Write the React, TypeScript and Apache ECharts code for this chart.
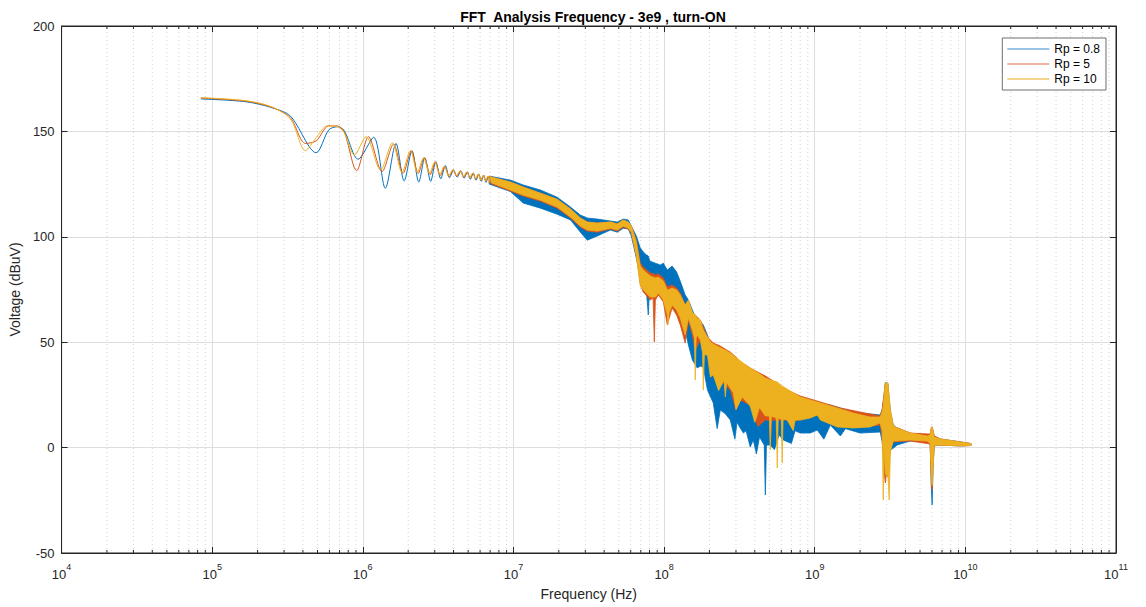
import React, { useEffect, useRef } from "react";
import * as echarts from "echarts";

const TITLE = "FFT  Analysis Frequency - 3e9 , turn-ON";
const X_NAME = "Frequency (Hz)";
const Y_NAME = "Voltage (dBuV)";
const SERIES_NAMES = ["Rp = 0.8", "Rp = 5", "Rp = 10"];
const COLORS = ["#0072BD", "#D95319", "#EDB120"];
const LEGEND_COLORS = ["#9cc4e6", "#eeb59c", "#f4d48a"];
const X_MIN = 1e4;
const X_MAX = 1e11;
const Y_MIN = -50;
const Y_MAX = 200;
const Y_STEP = 50;
const MINOR_DECADES = [1e4, 1e5, 1e6, 1e7, 1e8, 1e9, 1e10];
const MINOR_MULTS = [2, 3, 4, 5, 6, 7, 8, 9];
const FONT = "'Liberation Sans', Arial, Helvetica, sans-serif";

// Low-frequency part (clean ripples), [Hz, dBuV]
const blueLine = [
  [8.4e4, 165.4], [1.66e5, 164.1], [2.45e5, 161.4], [3.3e5, 157.3], [4.9e5, 139.9],
  [5.94e5, 150.7], [6.75e5, 152.2], [7.5e5, 150.5], [9.3e5, 136.8], [1.18e6, 147.2],
  [1.41e6, 123.0], [1.66e6, 144.3], [1.88e6, 126.5], [2.12e6, 140.8], [2.35e6, 126.0],
  [2.58e6, 137.5], [2.82e6, 126.3], [3.05e6, 135.6], [3.29e6, 127.5], [3.53e6, 133.8],
  [3.76e6, 128.0], [4.0e6, 131.6], [4.23e6, 128.3], [4.47e6, 131.2], [4.7e6, 127.8],
  [4.94e6, 130.7], [5.17e6, 127.3], [5.41e6, 130.2], [5.64e6, 126.8], [5.88e6, 129.7],
  [6.11e6, 126.3], [6.35e6, 129.2], [6.58e6, 125.8], [6.82e6, 128.7], [7.05e6, 125.3],
];
const orangeLine = [
  [8.4e4, 165.8], [1.66e5, 164.4], [2.45e5, 161.6], [3.3e5, 156.5], [4.16e5, 144.3],
  [4.9e5, 145.5], [5.94e5, 152.6], [6.75e5, 152.6], [7.5e5, 150.0], [9.1e5, 131.4],
  [1.09e6, 147.5], [1.34e6, 130.9], [1.6e6, 144.0], [1.85e6, 130.1], [2.1e6, 140.8],
  [2.33e6, 130.0], [2.56e6, 137.5], [2.8e6, 129.5], [3.03e6, 135.5], [3.27e6, 129.0],
  [3.5e6, 133.5], [3.74e6, 128.5], [3.98e6, 131.8], [4.21e6, 128.7], [4.45e6, 131.3],
  [4.68e6, 128.2], [4.92e6, 130.8], [5.15e6, 127.7], [5.39e6, 130.3], [5.62e6, 127.2],
  [5.86e6, 129.8], [6.09e6, 126.7], [6.33e6, 129.3], [6.56e6, 126.2], [6.8e6, 128.8],
  [7.03e6, 125.8],
];
const yellowLine = [
  [8.4e4, 166.0], [1.66e5, 164.6], [2.45e5, 161.8], [3.3e5, 156.0], [4.16e5, 140.9],
  [4.9e5, 147.0], [5.8e5, 152.6], [6.75e5, 152.4], [7.5e5, 149.5], [8.8e5, 138.8],
  [1.05e6, 147.5], [1.31e6, 131.7], [1.57e6, 144.5], [1.82e6, 130.5], [2.07e6, 141.0],
  [2.3e6, 130.5], [2.53e6, 137.5], [2.77e6, 130.0], [3.0e6, 135.5], [3.24e6, 129.5],
  [3.47e6, 133.5], [3.71e6, 129.0], [3.95e6, 131.8], [4.18e6, 129.0], [4.42e6, 131.3],
  [4.65e6, 128.5], [4.89e6, 130.8], [5.12e6, 128.0], [5.36e6, 130.3], [5.59e6, 127.5],
  [5.83e6, 129.8], [6.06e6, 127.0], [6.3e6, 129.3], [6.53e6, 126.5], [6.77e6, 128.8],
  [7.0e6, 126.0],
];

// Dense part: envelope of the fast ripple, [Hz, low dBuV, high dBuV]
const blueBand = [
  [6.9e6, 125.0, 128.8], [9.53e6, 121.5, 126.9],
  [1.16e7, 116.0, 124.6], [1.51e7, 113.6, 122.2], [1.95e7, 110.7, 118.8], [2.39e7, 108.0, 114.1],
  [2.78e7, 102.2, 110.3], [3.09e7, 98.4, 108.9], [3.6e7, 100.4, 108.4], [4.4e7, 103.2, 107.5],
  [4.89e7, 102.2, 107.0], [5.36e7, 104.1, 108.4], [5.78e7, 103.7, 108.0], [6.06e7, 100.4, 105.1],
  [6.54e7, 89.9, 100.4], [6.95e7, 81.9, 94.7], [7.28e7, 73.8, 92.8], [7.6e7, 76.0, 91.5],
  [7.85e7, 62.9, 90.9], [8.0e7, 76.0, 89.0], [8.09e7, 74.8, 88.4], [8.75e7, 78.6, 87.5],
  [9.44e7, 74.8, 86.6], [9.88e7, 72.4, 87.5], [1.05e8, 70.0, 84.2], [1.13e8, 71.4, 86.1],
  [1.21e8, 67.6, 83.3], [1.28e8, 62.9, 79.0], [1.38e8, 55.8, 72.4], [1.45e8, 48.7, 70.0],
  [1.54e8, 41.6, 65.3], [1.66e8, 37.8, 60.0], [1.74e8, 38.7, 59.6], [1.82e8, 38.2, 58.2],
  [1.94e8, 27.3, 53.4], [2.12e8, 21.2, 43.4], [2.25e8, 9.0, 42.5], [2.36e8, 17.8, 41.6],
  [2.55e8, 16.0, 40.5], [2.75e8, 13.1, 39.2], [2.95e8, 4.0, 37.0], [3.05e8, 12.0, 35.0],
  [3.2e8, 9.3, 33.5], [3.36e8, 6.9, 32.1], [3.5e8, 8.0, 31.0], [3.73e8, 0.3, 29.7],
  [3.91e8, 3.6, 28.7], [4.1e8, -3.0, 27.5], [4.3e8, 5.0, 26.5], [4.62e8, 1.2, 25.2],
  [4.7e8, -22.5, 24.9], [4.78e8, 1.2, 24.6], [5.07e8, 1.2, 23.5], [5.4e8, -1.0, 22.5],
  [5.8e8, 6.0, 21.5], [6.18e8, 3.6, 20.2], [7.0e8, 2.0, 19.0], [7.4e8, 8.0, 18.5],
  [8.01e8, 6.9, 17.8], [9.33e8, 6.9, 21.6], [1.04e9, 8.3, 20.7], [1.15e9, 4.0, 20.5],
  [1.27e9, 10.7, 20.2], [1.48e9, 5.5, 18.8], [1.6e9, 9.0, 18.0], [2.0e9, 6.9, 16.4],
  [2.72e9, 7.4, 15.5], [2.8e9, 3.0, 18.0], [2.88e9, -5.0, 24.0], [2.94e9, -13.5, 30.8],
  [3.0e9, -10.0, 30.8], [3.06e9, -13.0, 30.5], [3.12e9, -3.5, 22.6], [3.2e9, -1.0, 16.0],
  [3.32e9, -0.3, 10.7], [3.52e9, 1.2, 9.3], [4.3e9, 3.1, 6.9], [5.58e9, 2.7, 5.5],
  [5.84e9, 1.5, 6.5], [5.95e9, -20.0, 9.0], [6.02e9, -27.2, 9.8], [6.1e9, -10.0, 8.0],
  [6.21e9, 0.8, 5.5], [6.81e9, 1.2, 4.1], [9.25e9, 0.8, 2.7], [1.09e10, 1.0, 1.9],
];
const orangeBand = [
  [6.9e6, 125.5, 128.6], [9.53e6, 121.7, 126.0],
  [1.16e7, 119.3, 123.6], [1.51e7, 116.9, 120.7], [1.95e7, 113.6, 117.8], [2.39e7, 108.9, 113.2],
  [2.78e7, 104.6, 108.9], [3.09e7, 102.7, 107.0], [3.6e7, 102.2, 106.5], [4.4e7, 103.7, 107.0],
  [4.89e7, 102.7, 106.1], [5.36e7, 104.6, 108.0], [5.78e7, 103.7, 107.0], [6.06e7, 101.8, 105.1],
  [6.54e7, 91.3, 98.4], [6.95e7, 77.1, 87.5], [7.28e7, 73.8, 85.6], [8.09e7, 70.0, 82.8],
  [8.45e7, 71.0, 82.5], [8.61e7, 50.1, 82.4], [8.75e7, 70.0, 81.9], [9.15e7, 72.4, 82.4],
  [9.88e7, 69.1, 80.5], [1.05e8, 58.2, 76.2], [1.13e8, 66.2, 77.1], [1.21e8, 62.9, 75.7],
  [1.28e8, 58.2, 73.3], [1.38e8, 49.6, 67.6], [1.45e8, 60.5, 70.0], [1.54e8, 53.4, 62.9],
  [1.61e8, 46.3, 62.9], [1.74e8, 51.0, 60.5], [1.94e8, 46.3, 52.5], [2.12e8, 36.8, 49.6],
  [2.36e8, 32.1, 48.2], [2.75e8, 27.3, 45.3], [3.0e8, 18.0, 43.0], [3.2e8, 22.6, 40.6],
  [3.73e8, 20.2, 37.8], [4.2e8, 10.0, 35.8], [4.7e8, 13.1, 34.0], [5.0e8, 13.0, 32.8],
  [5.07e8, 1.2, 32.5], [5.15e8, 13.0, 32.2], [6.18e8, 13.1, 28.2], [8.01e8, 13.1, 24.5],
  [1.04e9, 15.5, 22.1], [1.27e9, 13.1, 20.2], [1.48e9, 10.7, 18.8], [2.0e9, 9.8, 16.9],
  [2.72e9, 10.7, 15.0], [2.8e9, 5.0, 18.0], [2.88e9, -10.0, 25.0], [2.94e9, -16.8, 30.5],
  [3.0e9, -12.0, 30.5], [3.06e9, -14.0, 30.0], [3.12e9, -6.0, 21.0], [3.2e9, 0.0, 16.0],
  [3.32e9, 2.7, 10.2], [4.3e9, 3.1, 6.9], [5.84e9, 1.7, 6.4], [5.95e9, -18.0, 9.5],
  [6.02e9, -20.0, 9.5], [6.1e9, -8.0, 8.0], [6.21e9, 1.2, 5.5], [6.81e9, 1.2, 4.1],
  [9.25e9, 0.8, 2.7], [1.09e10, 1.0, 1.9],
];
const yellowBand = [
  [6.9e6, 126.0, 128.6], [9.53e6, 122.2, 126.0],
  [1.16e7, 119.8, 123.6], [1.51e7, 117.4, 120.7], [1.95e7, 114.1, 117.8], [2.39e7, 109.4, 113.2],
  [2.78e7, 105.1, 108.9], [3.09e7, 103.2, 107.0], [3.6e7, 102.7, 106.5], [4.4e7, 104.1, 107.0],
  [4.89e7, 103.2, 106.1], [5.36e7, 105.1, 108.0], [5.78e7, 104.1, 107.0], [6.06e7, 102.2, 105.1],
  [6.54e7, 90.9, 97.5], [6.95e7, 77.1, 86.1], [7.28e7, 74.8, 84.2], [8.09e7, 71.4, 81.4],
  [8.75e7, 71.4, 80.5], [9.15e7, 73.3, 80.9], [9.88e7, 70.0, 79.0], [1.05e8, 62.9, 74.8],
  [1.06e8, 58.2, 74.8], [1.08e8, 64.0, 75.0], [1.13e8, 67.6, 75.7], [1.21e8, 65.3, 74.8],
  [1.28e8, 61.5, 72.4], [1.38e8, 53.4, 67.6], [1.45e8, 61.5, 70.0], [1.54e8, 55.8, 64.3],
  [1.59e8, 52.0, 63.3], [1.61e8, 32.1, 62.9], [1.63e8, 52.0, 62.3], [1.66e8, 53.4, 61.5],
  [1.74e8, 51.0, 60.5], [1.8e8, 45.0, 57.0], [1.82e8, 27.3, 55.8], [1.85e8, 44.0, 55.0],
  [1.94e8, 43.9, 52.5], [2.03e8, 33.5, 50.1], [2.12e8, 34.4, 49.1], [2.3e8, 27.0, 47.8],
  [2.5e8, 32.0, 46.5], [2.55e8, 24.0, 46.3], [2.6e8, 31.0, 46.0], [2.88e8, 25.9, 43.9],
  [3.0e8, 18.0, 42.8], [3.3e8, 24.0, 40.5], [3.73e8, 19.7, 37.8], [4.0e8, 12.0, 36.5],
  [4.3e8, 19.0, 35.0], [4.7e8, 15.0, 33.0], [5.0e8, 15.0, 32.3], [5.07e8, -1.1, 32.1],
  [5.15e8, 15.0, 31.9], [5.55e8, 14.0, 31.3], [5.64e8, -9.7, 31.1], [5.72e8, 14.0, 30.8],
  [6.0e8, 13.5, 29.5], [6.08e8, -7.3, 29.2], [6.16e8, 13.5, 29.0], [6.56e8, 13.1, 27.8],
  [7.2e8, 8.0, 26.0], [7.4e8, 13.0, 25.5], [8.01e8, 13.1, 24.0], [9.33e8, 14.0, 22.6],
  [1.04e9, 15.5, 21.6], [1.09e9, 13.1, 21.2], [1.41e9, 9.8, 18.8], [1.8e9, 9.3, 16.4],
  [2.33e9, 9.8, 14.5], [2.72e9, 11.7, 14.5], [2.8e9, 8.0, 17.0], [2.85e9, -24.9, 20.0],
  [2.88e9, 0.0, 24.0], [2.94e9, -12.0, 30.6], [3.0e9, -14.0, 30.8], [3.06e9, -12.0, 30.6],
  [3.12e9, -24.9, 25.0], [3.18e9, -2.0, 18.0], [3.32e9, 3.1, 10.5], [3.52e9, 3.1, 9.3],
  [4.3e9, 3.6, 6.9], [5.58e9, 3.1, 5.5], [5.84e9, 2.0, 6.0], [5.95e9, -15.0, 9.9],
  [6.02e9, -18.0, 9.9], [6.1e9, -10.0, 8.0], [6.21e9, 1.0, 5.0], [6.81e9, 1.2, 4.1],
  [9.25e9, 0.8, 2.7], [1.09e10, 1.0, 1.9],
];

const LINES = [blueLine, orangeLine, yellowLine];
const BANDS = [blueBand, orangeBand, yellowBand];

const MINOR_TICKS: number[] = [];
MINOR_DECADES.forEach((d) => MINOR_MULTS.forEach((m) => MINOR_TICKS.push(m * d)));

const AXIS_COLOR = "#262626";
const GRID_COLOR = "#dedede";

function bandSeries(band: number[][], color: string, idx: number) {
  return {
    type: "custom",
    name: "band" + idx,
    xAxisIndex: 0,
    yAxisIndex: 0,
    silent: true,
    clip: true,
    dimensions: ["f", "lo", "hi"],
    encode: { x: 0, y: [1, 2] },
    data: band,
    renderItem: (params: any, api: any) => {
      if (params.dataIndex !== 0) return null;
      const upper = band.map((d) => api.coord([d[0], d[2]]));
      const lower = band.map((d) => api.coord([d[0], d[1]])).reverse();
      return {
        type: "polygon",
        shape: { points: upper.concat(lower) },
        style: { fill: color, stroke: color, lineWidth: 0.8 },
      };
    },
  };
}

export default function App() {
  const ref = useRef<HTMLDivElement>(null);

  useEffect(() => {
    if (!ref.current) return;
    const chart = echarts.init(ref.current, undefined, { renderer: "svg" });

    const series: any[] = [
      {
        type: "custom",
        name: "minorGrid",
        silent: true,
        z: 1,
        xAxisIndex: 0,
        yAxisIndex: 0,
        dimensions: ["f"],
        encode: { x: 0 },
        data: MINOR_TICKS.map((f) => [f]),
        renderItem: (params: any, api: any) => {
          const f = api.value(0);
          const b = api.coord([f, Y_MIN]);
          const t = api.coord([f, Y_MAX]);
          return {
            type: "group",
            children: [
              {
                type: "line",
                shape: { x1: b[0], y1: b[1], x2: t[0], y2: t[1] },
                style: { stroke: "#d2d2d2", lineWidth: 1, lineDash: [1, 3] },
              },
              {
                type: "line",
                shape: { x1: b[0], y1: b[1], x2: b[0], y2: b[1] - 3 },
                style: { stroke: AXIS_COLOR, lineWidth: 1 },
              },
              {
                type: "line",
                shape: { x1: t[0], y1: t[1], x2: t[0], y2: t[1] + 3 },
                style: { stroke: AXIS_COLOR, lineWidth: 1 },
              },
            ],
          };
        },
      },
    ];

    SERIES_NAMES.forEach((name, i) => {
      series.push({
        type: "line",
        name,
        xAxisIndex: 0,
        yAxisIndex: 0,
        data: LINES[i],
        symbol: "none",
        smooth: 0.3,
        lineStyle: { color: COLORS[i], width: 1 },
        itemStyle: { color: COLORS[i] },
        silent: true,
      });
      series.push(bandSeries(BANDS[i], COLORS[i], i));
    });

    const xLabel = {
      formatter: (v: number) => `{b|10}{e|${Math.round(Math.log10(v))}}`,
      margin: 9,
      rich: {
        b: { fontSize: 13, color: AXIS_COLOR, fontFamily: FONT, lineHeight: 19, verticalAlign: "bottom" },
        e: { fontSize: 9, color: AXIS_COLOR, fontFamily: FONT, lineHeight: 11, verticalAlign: "top" },
      },
    };

    chart.setOption({
      animation: false,
      backgroundColor: "#ffffff",
      title: {
        text: TITLE,
        left: 588,
        top: 5,
        textAlign: "center",
        textStyle: { fontSize: 14, fontWeight: "bold", color: "#000", fontFamily: FONT },
      },
      grid: {
        left: 61,
        right: 30,
        top: 26,
        bottom: 54,
        show: true,
        borderColor: AXIS_COLOR,
        borderWidth: 1,
        backgroundColor: "transparent",
      },
      legend: {
        orient: "vertical",
        right: 40,
        top: 38,
        data: SERIES_NAMES.map((n, i) => ({
          name: n,
          itemStyle: { color: "rgba(0,0,0,0)", borderWidth: 0, opacity: 0 },
          lineStyle: { color: LEGEND_COLORS[i], width: 2 },
        })),
        itemWidth: 42,
        itemHeight: 13,
        itemGap: 3,
        padding: [5, 6, 5, 4],
        borderColor: "#6e6e6e",
        borderWidth: 1,
        backgroundColor: "#ffffff",
        textStyle: { fontSize: 12, color: "#000", fontFamily: FONT },
      },
      xAxis: [
        {
          type: "log",
          logBase: 10,
          min: X_MIN,
          max: X_MAX,
          position: "bottom",
          name: X_NAME,
          nameLocation: "middle",
          nameGap: 34,
          nameTextStyle: { fontSize: 14, color: AXIS_COLOR, fontFamily: FONT },
          axisLine: { show: true, onZero: false, lineStyle: { color: AXIS_COLOR } },
          axisTick: { show: true, inside: true, length: 6, lineStyle: { color: AXIS_COLOR } },
          axisLabel: xLabel,
          splitLine: { show: true, lineStyle: { color: GRID_COLOR } },
        },
        {
          type: "log",
          logBase: 10,
          min: X_MIN,
          max: X_MAX,
          position: "top",
          axisLine: { show: true, onZero: false, lineStyle: { color: AXIS_COLOR } },
          axisTick: { show: true, inside: true, length: 6, lineStyle: { color: AXIS_COLOR } },
          axisLabel: { show: false },
          splitLine: { show: false },
        },
      ],
      yAxis: [
        {
          type: "value",
          min: Y_MIN,
          max: Y_MAX,
          interval: Y_STEP,
          position: "left",
          name: Y_NAME,
          nameLocation: "middle",
          nameGap: 36,
          nameRotate: 90,
          nameTextStyle: { fontSize: 14, color: AXIS_COLOR, fontFamily: FONT },
          axisLine: { show: true, onZero: false, lineStyle: { color: AXIS_COLOR } },
          axisTick: { show: true, inside: true, length: 6, lineStyle: { color: AXIS_COLOR } },
          axisLabel: { fontSize: 13, color: AXIS_COLOR, fontFamily: FONT, margin: 7 },
          splitLine: { show: true, lineStyle: { color: GRID_COLOR } },
        },
        {
          type: "value",
          min: Y_MIN,
          max: Y_MAX,
          interval: Y_STEP,
          position: "right",
          axisLine: { show: true, onZero: false, lineStyle: { color: AXIS_COLOR } },
          axisTick: { show: true, inside: true, length: 6, lineStyle: { color: AXIS_COLOR } },
          axisLabel: { show: false },
          splitLine: { show: false },
        },
      ],
      series,
    });

    return () => chart.dispose();
  }, []);

  return (
    <div
      ref={ref}
      style={{ position: "absolute", left: 0, top: 0, width: 1146, height: 607, background: "#fff" }}
    />
  );
}
